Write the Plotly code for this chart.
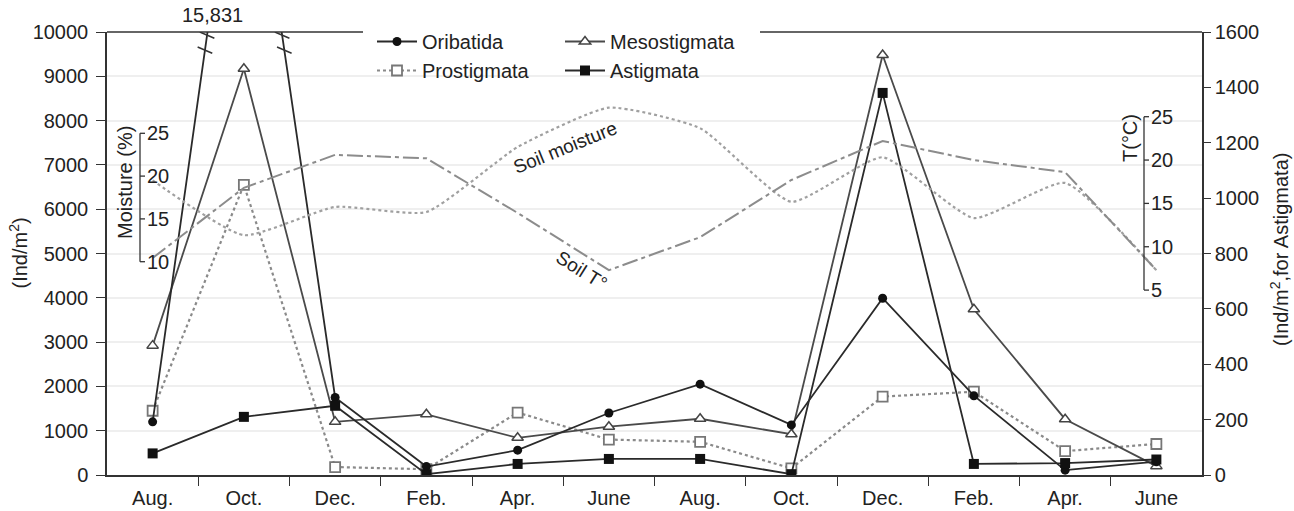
import plotly.graph_objects as go

months = ["Aug.", "Oct.", "Dec.", "Feb.", "Apr.", "June", "Aug.", "Oct.", "Dec.", "Feb.", "Apr.", "June"]
xpos = list(range(len(months)))

oribatida = [1200, 15831, 1750, 190, 560, 1400, 2050, 1130, 3990, 1790, 110, 300]
mesostigmata = [2920, 9170, 1200, 1370, 840, 1090, 1270, 920, 9480, 3740, 1260, 200]
prostigmata = [1450, 6550, 180, 130, 1410, 800, 750, 150, 1770, 1880, 540, 700]
astigmata = [78, 210, 250, 3, 40, 58, 58, 3, 1380, 40, 43, 56]
soil_moisture = [19.5, 13.1, 16.4, 15.8, 23.4, 28.0, 25.6, 17.0, 22.2, 15.1, 19.2, 9.0]
soil_temp = [8.7, 16.8, 20.6, 20.2, 13.9, 7.3, 11.1, 17.7, 22.2, 20.0, 18.6, 7.3]

left_ticks = list(range(0, 10001, 1000))
right_ticks = list(range(0, 1601, 200))
moist_ticks = [10, 15, 20, 25]
temp_ticks = [5, 10, 15, 20, 25]

FONT = "Liberation Sans, Arial, sans-serif"
INK = "#222222"
PW = 1095.0  # plot width px
H = 443.0    # plot height px


def frac(py):
    return (475.0 - py) / H


def xfrac(px):
    return (px - 107.0) / PW


fig = go.Figure()

# environmental lines (hidden scaled axes)
fig.add_trace(go.Scatter(x=xpos, y=soil_moisture, yaxis="y3", mode="lines",
                         line=dict(color="#a0a0a0", width=2.2, dash="dot", shape="spline", smoothing=0.5),
                         showlegend=False, hoverinfo="skip"))
fig.add_trace(go.Scatter(x=xpos, y=soil_temp, yaxis="y4", mode="lines",
                         line=dict(color="#8c8c8c", width=2, dash="16px,4px,4px,4px"),
                         showlegend=False, hoverinfo="skip"))

fig.add_trace(go.Scatter(x=xpos, y=prostigmata, name="Prostigmata", mode="lines+markers",
                         line=dict(color="#8a8a8a", width=2.2, dash="dot"),
                         marker=dict(symbol="square", size=10, color="white",
                                     line=dict(color="#777777", width=1.8)),
                         legend="legend", legendrank=2))
fig.add_trace(go.Scatter(x=xpos, y=mesostigmata, name="Mesostigmata", mode="lines+markers",
                         line=dict(color="#4a4a4a", width=1.8),
                         marker=dict(symbol="triangle-up", size=10, color="white",
                                     line=dict(color="#444444", width=1.5)),
                         legend="legend2", legendrank=1))
fig.add_trace(go.Scatter(x=xpos, y=oribatida, name="Oribatida", mode="lines+markers",
                         line=dict(color="#2a2a2a", width=1.8),
                         marker=dict(symbol="circle", size=9, color="#111111"),
                         legend="legend", legendrank=1))
fig.add_trace(go.Scatter(x=xpos, y=astigmata, name="Astigmata", yaxis="y2", mode="lines+markers",
                         line=dict(color="#2a2a2a", width=1.8),
                         marker=dict(symbol="square", size=10, color="#111111"),
                         legend="legend2", legendrank=2))

# hidden ranges so that inset axes align with curves
m_lo = 25 - (475 - 133.3) / 8.56
m_hi = 25 + (133.3 - 32) / 8.56
t_lo = 25 - (475 - 116.7) / 8.67
t_hi = 25 + (116.7 - 32) / 8.67

shapes = []
annotations = []

# break marks on Oribatida peak line (computed from data)
peak_i = oribatida.index(max(oribatida))
for v in (9590, 9930):
    for a, b in ((peak_i - 1, peak_i), (peak_i, peak_i + 1)):
        ya, yb = oribatida[a], oribatida[b]
        xc = a + (v - ya) / (yb - ya)
        shapes.append(dict(type="line", xref="x", yref="y", x0=xc - 0.08, x1=xc + 0.08,
                           y0=v + 70, y1=v - 70, line=dict(color="#333333", width=1.5)))
# top frame segments (legend gap)
shapes.append(dict(type="line", xref="paper", yref="paper", x0=0, x1=xfrac(363), y0=1, y1=1,
                   line=dict(color="#333333", width=1.5)))
shapes.append(dict(type="line", xref="paper", yref="paper", x0=xfrac(760), x1=1, y0=1, y1=1,
                   line=dict(color="#333333", width=1.5)))


def inset_axis(yref, ticks, xpx):
    xp = xfrac(xpx)
    shapes.append(dict(type="line", xref="paper", yref=yref, x0=xp, x1=xp,
                       y0=min(ticks), y1=max(ticks), line=dict(color="#333333", width=1.3)))
    for t in ticks:
        shapes.append(dict(type="line", xref="paper", yref=yref, x0=xp, x1=xp + 5 / PW,
                           y0=t, y1=t, line=dict(color="#333333", width=1.3)))
        annotations.append(dict(text=str(t), xref="paper", yref=yref, x=xp + 5 / PW, y=t,
                                xanchor="left", yanchor="middle", showarrow=False,
                                font=dict(size=20, color=INK)))


inset_axis("y3", moist_ticks, 140)
inset_axis("y4", temp_ticks, 1144)


def label(text, px, py, angle=0, size=20):
    return dict(text=text, xref="paper", yref="paper", x=xfrac(px), y=frac(py),
                xanchor="center", yanchor="middle", textangle=angle, showarrow=False,
                font=dict(size=size, color=INK))


annotations += [
    label("15,831", 212, 15),
    label("(Ind/m<sup>2</sup>)", 18, 253.5, -90),
    label("(Ind/m<sup>2</sup>,for Astigmata)", 1279, 250, -90),
    label("Moisture (%)", 125, 183, -90),
    label("T(°C)", 1130, 138, -90),
    label("Soil moisture", 565, 147, -22, 19),
    label("Soil T°", 582, 270, 32, 19),
]

axis_common = dict(showline=True, linecolor="#333333", linewidth=1.5, tickcolor="#333333",
                   tickfont=dict(size=20, color=INK), zeroline=False)

fig.update_layout(
    width=1294, height=511, autosize=False,
    margin=dict(l=107, r=92, t=32, b=36, autoexpand=False),
    paper_bgcolor="white", plot_bgcolor="white",
    font=dict(family=FONT, color=INK, size=20),
    xaxis=dict(range=[-0.5, 11.5], tickmode="array", tickvals=xpos, ticktext=months,
               ticks="outside", ticklen=4, tickcolor="rgba(0,0,0,0)", showgrid=False,
               showline=True, linecolor="#333333", linewidth=1.5,
               tickfont=dict(size=20, color=INK), zeroline=False,
               minor=dict(tickvals=[i + 0.5 for i in xpos[:-1]], ticks="outside", ticklen=9,
                          tickcolor="#333333", tickwidth=1.3, showgrid=False)),
    yaxis=dict(range=[0, 10000], tickmode="array", tickvals=left_ticks,
               ticktext=[str(v) for v in left_ticks], ticks="outside", ticklen=9,
               ticklabelstandoff=4,
               showgrid=True, gridcolor="#efefef", gridwidth=1.5, **axis_common),
    yaxis2=dict(range=[0, 1600], tickmode="array", tickvals=right_ticks,
                ticktext=[str(v) for v in right_ticks], overlaying="y", side="right",
                ticks="outside", ticklen=7, showgrid=False, **axis_common),
    yaxis3=dict(range=[m_lo, m_hi], overlaying="y", visible=False, showgrid=False),
    yaxis4=dict(range=[t_lo, t_hi], overlaying="y", visible=False, showgrid=False),
    legend=dict(x=xfrac(372), y=1 + 10 / H, xanchor="left", yanchor="top",
                bgcolor="rgba(0,0,0,0)", font=dict(size=20, color=INK),
                traceorder="normal", tracegroupgap=0, itemwidth=40),
    legend2=dict(x=xfrac(560), y=1 + 10 / H, xanchor="left", yanchor="top",
                 bgcolor="rgba(0,0,0,0)", font=dict(size=20, color=INK),
                 traceorder="normal", tracegroupgap=0, itemwidth=40),
    shapes=shapes,
    annotations=annotations,
)

fig.write_html("out.html", config={"displayModeBar": False},
               post_script="document.body.style.margin='0';")
